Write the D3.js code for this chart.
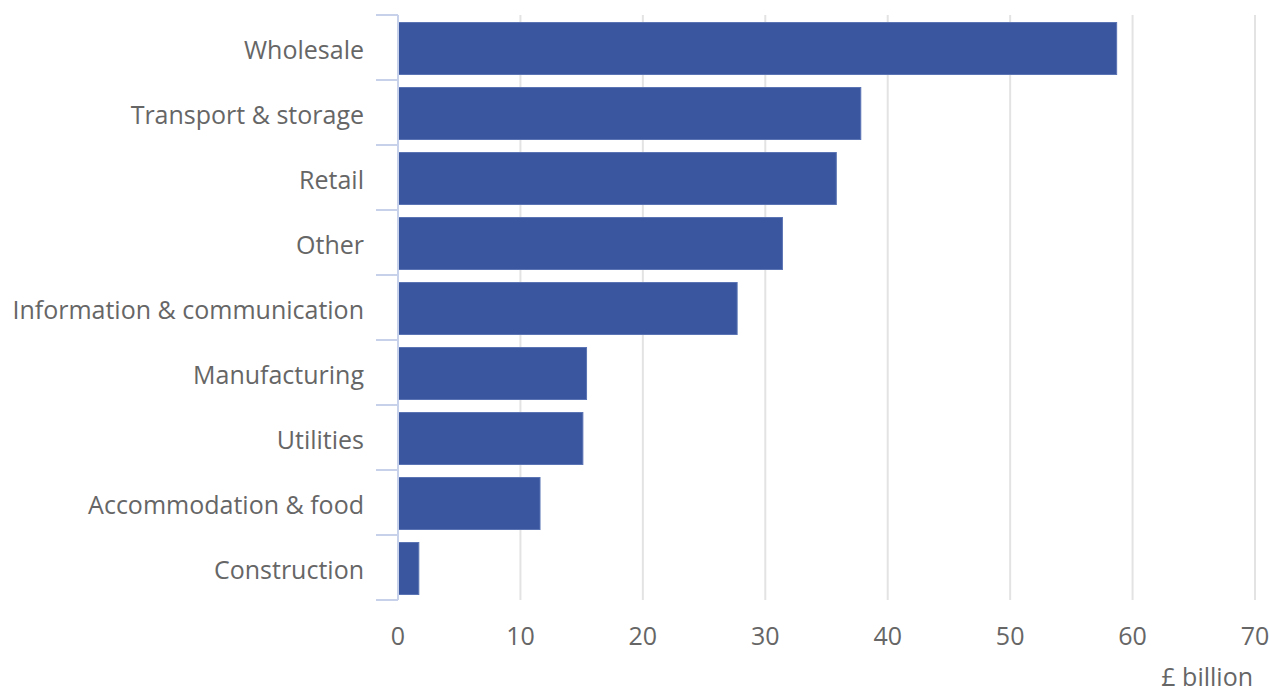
<!DOCTYPE html>
<html>

<head>
    <meta charset="utf-8">
    <title>Sector bars</title>
    <script type="text/javascript" src="https://d3js.org/d3.v7.min.js"></script>
    <style>
        body {
            margin: 0;
            background: #fff;
        }

        text {
            font-family: "Open Sans", sans-serif;
            fill: #666;
        }
    </style>
</head>

<body>
</body>

<script type="text/javascript">
    // chart data
    var sectors = ["Wholesale", "Transport & storage", "Retail", "Other",
        "Information & communication", "Manufacturing", "Utilities",
        "Accommodation & food", "Construction"];
    var values = [58.7, 37.8, 35.8, 31.4, 27.7, 15.4, 15.1, 11.6, 1.7];
    var xTicks = [0, 10, 20, 30, 40, 50, 60, 70];
    var xTitle = "£ billion";

    var w = 1269;
    var h = 693;
    var margin = { top: 15, right: 14, bottom: 93, left: 398 };

    var svg = d3.select("body")
        .append("svg")
        .attr("width", w)
        .attr("height", h);

    var x = d3.scaleLinear()
        .domain([0, 70])
        .range([margin.left, w - margin.right]);

    var y = d3.scaleBand()
        .domain(sectors)
        .range([margin.top, h - margin.bottom])
        .paddingInner(0.2)
        .paddingOuter(0.1);

    // vertical gridlines
    svg.append("g")
        .selectAll("line")
        .data(xTicks.slice(1))
        .enter()
        .append("line")
        .attr("x1", function(d) { return x(d); })
        .attr("x2", function(d) { return x(d); })
        .attr("y1", margin.top)
        .attr("y2", h - margin.bottom)
        .attr("stroke", "#e3e3e3")
        .attr("stroke-width", 2);

    // bars
    svg.append("g")
        .selectAll("rect")
        .data(values)
        .enter()
        .append("rect")
        .attr("x", x(0))
        .attr("y", function(d, i) { return y(sectors[i]) + 1; })
        .attr("width", function(d) { return x(d) - x(0); })
        .attr("height", y.bandwidth())
        .attr("fill", "#3a569e")
        .attr("stroke", "#5a74b4")
        .attr("stroke-width", 1);

    // y axis: line at zero plus ticks on band boundaries
    var axisColor = "#c8d1ea";
    var bounds = sectors.map(function(s) { return y(s) - y.step() * y.paddingInner() / 2; });
    bounds.push(h - margin.bottom);

    svg.append("line")
        .attr("x1", x(0)).attr("x2", x(0))
        .attr("y1", margin.top).attr("y2", h - margin.bottom)
        .attr("stroke", axisColor)
        .attr("stroke-width", 2);

    svg.append("g")
        .selectAll("line")
        .data(bounds)
        .enter()
        .append("line")
        .attr("x1", x(0) - 22)
        .attr("x2", x(0))
        .attr("y1", function(d) { return d; })
        .attr("y2", function(d) { return d; })
        .attr("stroke", axisColor)
        .attr("stroke-width", 2);

    svg.append("g")
        .selectAll("text")
        .data(sectors)
        .enter()
        .append("text")
        .attr("x", x(0) - 34)
        .attr("y", function(d) { return y(d) + y.bandwidth() / 2 + 3; })
        .attr("dy", "0.35em")
        .attr("text-anchor", "end")
        .style("font-size", "25px")
        .text(function(d) { return d; });

    // x tick labels
    svg.append("g")
        .selectAll("text")
        .data(xTicks)
        .enter()
        .append("text")
        .attr("x", function(d) { return x(d); })
        .attr("y", h - margin.bottom + 36)
        .attr("dy", "0.35em")
        .attr("text-anchor", "middle")
        .style("font-size", "25px")
        .text(function(d) { return d; });

    svg.append("text")
        .attr("x", w - 16)
        .attr("y", 686)
        .attr("text-anchor", "end")
        .style("font-size", "25px")
        .text(xTitle);
</script>

</html>
